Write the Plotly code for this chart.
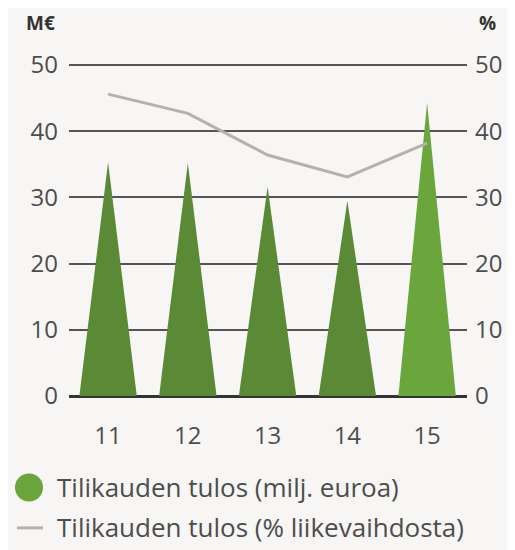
import plotly.graph_objects as go

years = ["11", "12", "13", "14", "15"]
result_meur = [35.3, 35.2, 31.6, 29.5, 44.3]
result_pct = [45.6, 42.7, 36.4, 33.1, 38.2]
bar_colors = ["#5a8a35", "#5a8a35", "#5a8a35", "#5a8a35", "#6aa63b"]
series_names = ["Tilikauden tulos (milj. euroa)", "Tilikauden tulos (% liikevaihdosta)"]
y_ticks = [0, 10, 20, 30, 40, 50]

FONT = "Open Sans"
TXT = "#4d4d4d"
BG = "#f7f6f4"
LINE_C = "#b9b0ab"
HALF = 0.36

fig = go.Figure()
for i, (v, c) in enumerate(zip(result_meur, bar_colors)):
    fig.add_trace(go.Scatter(
        x=[i - HALF, i, i + HALF, i - HALF], y=[0, v, 0, 0],
        mode="lines", fill="toself", fillcolor=c, line=dict(width=0, color=c),
        showlegend=False, hoverinfo="skip"))

fig.add_trace(go.Scatter(
    x=list(range(len(years))), y=result_pct, yaxis="y2", mode="lines",
    line=dict(color=LINE_C, width=3), showlegend=False))

fig.update_layout(
    width=507, height=542, paper_bgcolor=BG, plot_bgcolor=BG,
    margin=dict(l=61, r=48, t=55, b=154),
    font=dict(family=FONT, size=24, color=TXT),
    xaxis=dict(range=[-0.49, 4.5], tickvals=list(range(len(years))), ticktext=years,
               showgrid=False, zeroline=False, showline=False, ticks="",
               ticklabelstandoff=23, tickfont=dict(size=24, color=TXT)),
    yaxis=dict(range=[0, 50.3], tickvals=y_ticks, showgrid=True, gridcolor="#555555",
               gridwidth=1.6, zeroline=True, zerolinecolor="#333333", zerolinewidth=2.5,
               showline=False, ticks="", ticklabelstandoff=10,
               tickfont=dict(size=24, color=TXT)),
    yaxis2=dict(range=[0, 50.3], tickvals=y_ticks, overlaying="y", side="right",
                showgrid=False, zeroline=False, showline=False, ticks="",
                ticklabelstandoff=7, tickfont=dict(size=24, color=TXT)),
    showlegend=False,
)

# axis unit labels
fig.add_annotation(text="<b>M€</b>", xref="paper", yref="paper", x=-0.112, y=1.12,
                   xanchor="left", yanchor="middle", showarrow=False,
                   font=dict(size=19, color="#333333"))
fig.add_annotation(text="<b>%</b>", xref="paper", yref="paper", x=1.024, y=1.12,
                   xanchor="left", yanchor="middle", showarrow=False,
                   font=dict(size=19, color="#333333"))

# legend
fig.add_shape(type="circle", xref="paper", yref="paper",
              x0=-0.1357, x1=-0.0653, y0=-0.2326, y1=-0.317,
              fillcolor="#6aa63b", line=dict(width=0))
fig.add_shape(type="line", xref="paper", yref="paper",
              x0=-0.1307, x1=-0.0653, y0=-0.396, y1=-0.396,
              line=dict(color=LINE_C, width=3))
fig.add_annotation(text=series_names[0], xref="paper", yref="paper", x=-0.036, y=-0.272,
                   xanchor="left", yanchor="middle", showarrow=False,
                   font=dict(size=26, color=TXT))
fig.add_annotation(text=series_names[1], xref="paper", yref="paper", x=-0.036, y=-0.393,
                   xanchor="left", yanchor="middle", showarrow=False,
                   font=dict(size=26, color=TXT))

fig.write_html("out.html")
